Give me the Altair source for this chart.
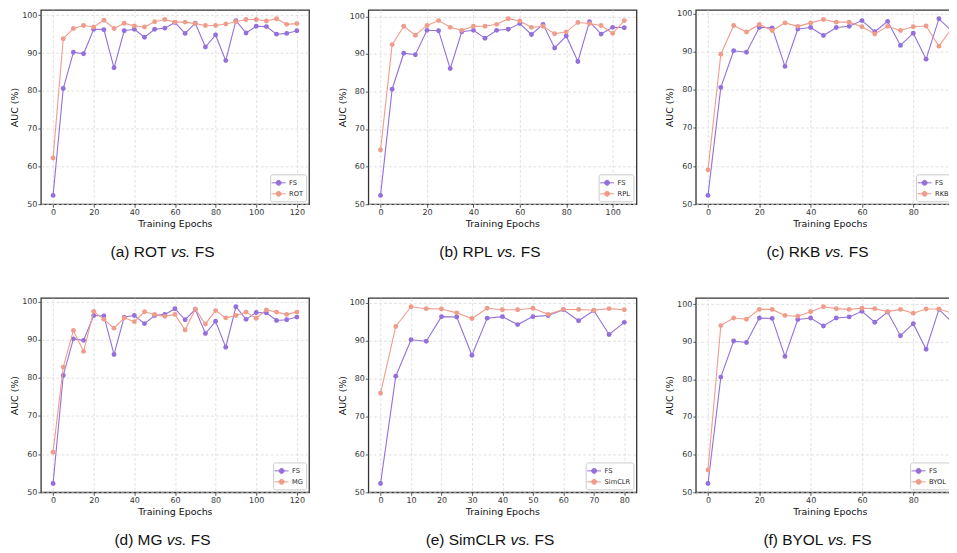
import altair as alt
import pandas as pd

# ---------------- data ----------------
EPOCHS = list(range(0, 125, 5))
FS = [52.3, 80.6, 90.2, 89.8, 96.3, 96.2, 86.1, 95.9, 96.3, 94.2, 96.3, 96.6, 98.1,
      95.2, 97.9, 91.6, 94.8, 88.0, 98.6, 95.3, 97.1, 97.0, 95.0, 95.2, 95.9]
ROT = [62.2, 93.8, 96.5, 97.3, 96.9, 98.7, 96.5, 97.9, 97.2, 96.9, 98.3, 98.9, 98.2,
       98.2, 97.8, 97.3, 97.3, 97.7, 98.3, 98.9, 98.9, 98.5, 99.1, 97.6, 97.8]
RPL = [64.4, 92.5, 97.4, 95.0, 97.6, 98.9, 97.1, 96.3, 97.4, 97.4, 97.9, 99.4, 98.8,
       97.1, 97.4, 95.4, 95.9, 98.4, 98.1, 97.6, 95.5, 98.9]
RKB = [59.0, 89.3, 96.8, 95.1, 97.1, 95.5, 97.5, 96.6, 97.5, 98.4, 97.7, 97.7, 96.5,
       94.6, 96.6, 95.5, 96.5, 96.7, 91.4, 96.1]
MG = [60.5, 82.8, 92.4, 86.9, 97.4, 95.3, 93.0, 95.7, 94.7, 97.3, 96.6, 96.1, 96.6,
      92.5, 98.0, 94.1, 97.6, 95.7, 96.3, 97.2, 95.6, 97.8, 97.2, 96.6, 97.2]
SIMCLR = [76.1, 93.7, 98.9, 98.4, 98.3, 97.3, 95.8, 98.5, 98.1, 98.1, 98.5, 96.9,
          98.2, 98.2, 98.0, 98.4, 98.1]
BYOL = [55.9, 94.3, 96.3, 96.0, 98.6, 98.6, 97.0, 96.8, 98.0, 99.3, 98.8, 98.6, 98.9,
        98.8, 98.0, 98.6, 97.6, 98.7, 98.7, 97.6]

PANELS = [
    # letter, method, values, x ticks, legend x when it sits at the page edge
    ("a", "ROT", ROT, [0, 20, 40, 60, 80, 100, 120], None),
    ("b", "RPL", RPL, [0, 20, 40, 60, 80, 100], None),
    ("c", "RKB", RKB, [0, 20, 40, 60, 80], 221),
    ("d", "MG", MG, [0, 20, 40, 60, 80, 100, 120], None),
    ("e", "SimCLR", SIMCLR, [0, 10, 20, 30, 40, 50, 60, 70, 80], None),
    ("f", "BYOL", BYOL, [0, 20, 40, 60, 80], 215),
]
Y_TICKS = [50, 60, 70, 80, 90, 100]

# ---------------- style ----------------
PURPLE = "#9370DB"
SALMON = "#F09C8B"
W, H = 269, 195
AXFONT = "DejaVu Sans"
CAPFONT = "Liberation Sans"
CAPSIZE = 15.5

ARIAL = {"(": 333, ")": 333, " ": 278, ".": 278, "a": 556, "b": 556, "c": 500, "d": 556,
         "e": 556, "f": 278, "i": 222, "m": 833, "s": 500, "v": 500, "R": 722, "O": 778,
         "T": 611, "P": 667, "L": 556, "K": 667, "B": 667, "M": 833, "G": 778, "S": 667,
         "C": 722, "F": 611, "Y": 667}


def tw(s):
    return sum(ARIAL.get(ch, 556) for ch in s) / 1000.0 * CAPSIZE


LINE_DOT = "M-1.4,0H1.4M-0.5,0A0.5,0.5,0,1,0,0.5,0A0.5,0.5,0,1,0,-0.5,0"


def panel(letter, name, vals, xticks, legx):
    n = len(vals)
    xs = EPOCHS[:n]
    df = pd.DataFrame({
        "epoch": xs + xs,
        "auc": FS[:n] + vals,
        "series": ["FS"] * n + [name] * n,
    })
    xmax = xs[-1]
    xdom = [-0.05 * xmax, xmax * 1.05]
    lo, hi = min(df.auc), max(df.auc)
    r = hi - lo
    ydom = [lo - 0.05 * r, hi + 0.05 * r]

    dom = ["FS", name]
    rng = [PURPLE, SALMON]
    grid = dict(grid=True, gridDash=[3, 2], gridColor="#d9d9d9", gridWidth=0.8,
                domain=False, tickColor="#333", tickSize=3, tickWidth=0.8,
                labelFont=AXFONT, labelFontSize=8, labelColor="#333",
                titleFont=AXFONT, titleFontSize=9.5, titleFontWeight="normal",
                titleColor="#111")
    x = alt.X("epoch:Q", scale=alt.Scale(domain=xdom, nice=False, zero=False),
              axis=alt.Axis(values=xticks, format="d", title="Training Epochs",
                            labelPadding=1.5, titlePadding=2, **grid))
    y = alt.Y("auc:Q", scale=alt.Scale(domain=ydom, nice=False, zero=False),
              axis=alt.Axis(values=Y_TICKS, title="AUC (%)", labelPadding=1,
                            titlePadding=2, **grid))
    fill_expr = f"datum.value === 'FS' ? '{PURPLE}' : '{SALMON}'"
    legkw = dict(title=None, padding=3,
                 strokeColor="#cccccc", fillColor="white", cornerRadius=2,
                 labelFont=AXFONT, labelFontSize=6.7, labelColor="#222",
                 symbolType=LINE_DOT, symbolSize=100, symbolStrokeWidth=1,
                 symbolFillColor={"expr": fill_expr},
                 labelOffset=5, rowPadding=1)
    if legx is not None:
        leg = alt.Legend(orient="none", legendX=legx, legendY=H - 30, **legkw)
    else:
        leg = alt.Legend(orient="bottom-right", offset=3, **legkw)
    cs = alt.Scale(domain=dom, range=rng)

    base = alt.Chart(df)
    layers = []
    for s in dom:
        sub = base.transform_filter(alt.datum.series == s)
        layers.append(sub.mark_line(strokeWidth=1.1).encode(
            x=x, y=y, color=alt.Color("series:N", scale=cs, legend=leg)))
        layers.append(sub.mark_point(filled=True, size=24, opacity=1).encode(
            x=x, y=y, color=alt.Color("series:N", scale=cs, legend=None)))

    # caption: "(x) NAME" + italic "vs." + "FS"
    left = f"({letter}) {name}"
    mid = "vs."
    right = "FS"
    sp = tw(" ")
    total = tw(left) + tw(mid) + tw(right) + 2 * sp
    cx = 122
    start = cx - total / 2 + tw(left) + sp
    cy = H + 48
    cap = pd.DataFrame({"a": [left], "b": [mid], "c": [right]})
    cbase = alt.Chart(cap)
    layers.append(cbase.mark_text(align="right", baseline="middle", font=CAPFONT,
                                  fontSize=CAPSIZE, color="#111").encode(
        x=alt.value(start - sp), y=alt.value(cy), text="a:N"))
    layers.append(cbase.mark_text(align="left", baseline="middle", font=CAPFONT,
                                  fontSize=CAPSIZE, fontStyle="italic", color="#111").encode(
        x=alt.value(start), y=alt.value(cy), text="b:N"))
    layers.append(cbase.mark_text(align="left", baseline="middle", font=CAPFONT,
                                  fontSize=CAPSIZE, color="#111").encode(
        x=alt.value(start + tw(mid) + sp), y=alt.value(cy), text="c:N"))

    return alt.layer(*layers).properties(width=W, height=H)


charts = [panel(*p) for p in PANELS]


def res(c):
    return c.resolve_scale(x="independent", y="independent",
                           color="independent").resolve_legend(color="independent")


row1 = res(alt.hconcat(*charts[:3], spacing=26.5))
row2 = res(alt.hconcat(*charts[3:], spacing=26.5))
# the right-hand panels run past the page edge (as in the source figure);
# a negative right padding crops them at the page border
chart = res(alt.vconcat(row1, row2, spacing=34)).properties(
    padding={"left": 1, "top": -1, "right": -16, "bottom": 0},
    background="white",
).configure_view(stroke="#333333", strokeWidth=1.3)

chart.save("out.html", embed_options={"renderer": "svg", "actions": False})
